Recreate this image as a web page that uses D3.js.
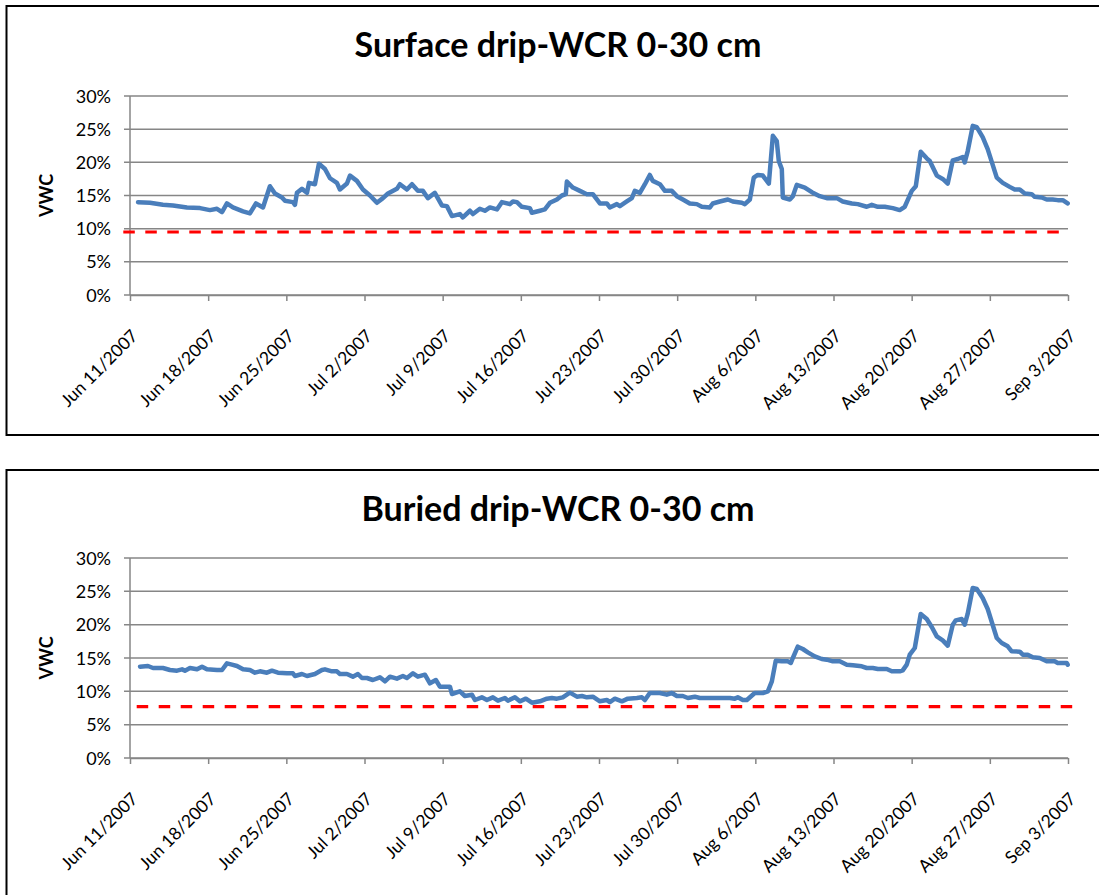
<!DOCTYPE html>
<html>
<head>
<meta charset="utf-8">
<script src="https://cdn.jsdelivr.net/npm/d3@7"></script>
<style>
  body { margin: 0; background: #fff; }
  svg { display: block; }
  text { font-family: Lato, "Open Sans", sans-serif; fill: #000; }
</style>
</head>
<body>
<svg id="chart" width="1099" height="895"></svg>
<script>
// Readings: [days after Jun 11 2007 00:00, volumetric water content %]
const seriesStart = new Date(2007, 5, 11);
const axisStart = new Date(2007, 5, 11);
const axisEnd = new Date(2007, 8, 3);
const vwcTicks = [0, 5, 10, 15, 20, 25, 30];

const surfaceDrip = [
  [0.72,14.0],[1.79,13.9],[2.95,13.6],[3.85,13.5],[5.10,13.2],[6.27,13.1],[7.16,12.8],[7.79,13.0],
  [8.24,12.5],[8.68,13.8],[9.22,13.2],[10.12,12.6],[10.74,12.3],[11.28,13.8],[11.91,13.2],[12.53,16.4],
  [12.98,15.3],[13.61,14.7],[13.88,14.2],[14.59,14.0],[14.77,13.6],[14.95,15.4],[15.40,16.0],[15.85,15.4],
  [16.03,16.9],[16.56,16.7],[16.92,19.8],[17.46,19.0],[17.91,17.6],[18.53,16.9],[18.80,15.9],[19.43,16.8],
  [19.70,18.0],[20.32,17.2],[20.86,15.9],[21.49,15.0],[22.11,13.9],[22.65,14.6],[23.10,15.3],[23.90,16.0],
  [24.17,16.7],[24.80,15.9],[25.25,16.7],[25.78,15.7],[26.23,15.7],[26.68,14.6],[27.30,15.4],[27.93,13.5],
  [28.38,13.4],[28.83,11.9],[29.54,12.2],[29.81,11.7],[30.44,12.7],[30.71,12.2],[31.33,13.0],[31.78,12.7],
  [32.23,13.2],[32.86,12.9],[33.30,14.0],[34.02,13.7],[34.29,14.1],[34.65,14.0],[35.09,13.3],[35.81,13.1],
  [35.99,12.4],[36.71,12.7],[37.15,12.9],[37.60,13.9],[38.23,14.4],[38.68,15.0],[39.03,15.2],[39.12,17.1],
  [39.66,16.2],[40.29,15.7],[40.91,15.2],[41.45,15.2],[42.08,13.8],[42.70,13.8],[42.97,13.2],[43.60,13.7],
  [43.87,13.4],[44.49,14.1],[44.94,14.6],[45.21,15.7],[45.66,15.4],[46.11,16.7],[46.55,18.1],[46.82,17.2],
  [47.45,16.7],[47.90,15.7],[48.52,15.7],[48.97,14.9],[49.51,14.4],[50.13,13.8],[50.76,13.7],[51.21,13.3],
  [51.93,13.2],[52.19,13.8],[52.82,14.1],[53.54,14.4],[53.98,14.1],[54.79,13.9],[55.06,13.7],[55.51,14.4],
  [55.86,17.7],[56.22,18.1],[56.67,18.0],[57.21,16.8],[57.57,24.0],[57.92,23.2],[58.10,20.2],[58.37,19.0],
  [58.46,14.7],[59.09,14.4],[59.36,14.9],[59.71,16.6],[60.43,16.2],[61.06,15.5],[61.77,14.9],[62.40,14.6],
  [63.30,14.6],[63.83,14.1],[64.64,13.8],[65.17,13.7],[65.98,13.3],[66.43,13.6],[66.97,13.3],[67.59,13.3],
  [68.31,13.1],[68.93,12.8],[69.38,13.3],[70.01,15.7],[70.37,16.4],[70.81,21.6],[71.35,20.6],[71.62,20.2],
  [72.25,18.0],[72.78,17.5],[73.23,16.8],[73.68,20.3],[74.13,20.5],[74.57,20.8],[74.75,20.0],[75.02,21.7],
  [75.47,25.5],[75.83,25.3],[76.36,23.8],[76.81,22.0],[77.62,17.7],[78.16,16.9],[78.78,16.3],[79.23,15.9],
  [79.68,15.9],[80.13,15.3],[80.75,15.2],[81.02,14.8],[81.65,14.7],[82.09,14.4],[82.63,14.4],[83.08,14.3],
  [83.53,14.3],[83.97,13.8]
];

const buriedDrip = [
  [0.90,13.7],[1.61,13.8],[2.06,13.5],[2.95,13.5],[3.58,13.2],[4.21,13.1],[4.66,13.3],[4.92,13.1],
  [5.37,13.5],[6.00,13.3],[6.45,13.7],[6.89,13.3],[7.79,13.2],[8.24,13.2],[8.68,14.2],[9.13,14.0],
  [9.58,13.8],[10.12,13.3],[10.74,13.2],[11.19,12.8],[11.64,13.0],[12.26,12.8],[12.71,13.1],[13.25,12.8],
  [14.06,12.7],[14.59,12.7],[14.77,12.3],[15.40,12.6],[15.85,12.3],[16.56,12.6],[17.19,13.2],[17.46,13.3],
  [18.08,13.0],[18.53,13.0],[18.80,12.6],[19.43,12.6],[19.96,12.2],[20.41,12.6],[20.77,12.0],[21.22,12.0],
  [21.75,11.7],[22.38,12.1],[22.83,11.5],[23.28,12.2],[23.90,11.9],[24.44,12.3],[24.80,12.0],[25.34,12.7],
  [25.78,12.2],[26.41,12.5],[26.86,11.2],[27.39,11.7],[27.75,10.7],[28.65,10.7],[28.83,9.6],[29.54,10.0],
  [29.99,9.3],[30.62,9.5],[30.89,8.7],[31.51,9.1],[31.96,8.7],[32.50,9.1],[32.95,8.6],[33.57,9.0],
  [33.84,8.6],[34.47,9.1],[34.91,8.5],[35.45,8.9],[35.99,8.3],[36.71,8.5],[37.33,8.9],[37.78,9.0],
  [38.23,8.9],[38.76,9.1],[39.39,9.8],[40.02,9.2],[40.47,9.3],[40.91,9.1],[41.45,9.2],[42.08,8.5],
  [42.70,8.7],[42.97,8.4],[43.42,8.9],[44.05,8.5],[44.58,8.9],[45.39,9.0],[45.84,9.1],[46.11,8.7],
  [46.55,9.75],[47.45,9.75],[48.07,9.5],[48.52,9.75],[48.97,9.3],[49.51,9.3],[49.96,9.0],[50.58,9.2],
  [51.03,9.0],[52.19,9.0],[53.72,9.0],[54.16,8.9],[54.43,9.1],[54.88,8.7],[55.24,8.7],[55.95,9.75],
  [56.67,9.75],[57.12,10.0],[57.48,11.5],[57.83,14.6],[58.37,14.5],[58.91,14.5],[59.18,14.25],[59.36,15.0],
  [59.80,16.7],[60.25,16.35],[60.70,15.85],[61.32,15.25],[61.95,14.85],[62.40,14.75],[62.94,14.5],[63.56,14.5],
  [64.19,14.0],[64.73,13.9],[65.53,13.75],[65.98,13.5],[66.52,13.5],[66.97,13.35],[67.77,13.35],[68.22,13.0],
  [68.93,13.0],[69.20,13.15],[69.56,14.0],[69.83,15.5],[70.28,16.5],[70.81,21.6],[71.35,20.85],[71.80,19.65],
  [72.25,18.25],[72.78,17.65],[73.23,16.85],[73.68,20.0],[73.95,20.65],[74.48,20.85],[74.75,20.0],[75.02,21.65],
  [75.47,25.5],[75.83,25.35],[76.36,24.0],[76.81,22.35],[77.62,18.0],[78.07,17.25],[78.60,16.75],[78.96,16.0],
  [79.68,15.95],[79.95,15.5],[80.39,15.5],[80.84,15.1],[81.47,15.0],[82.09,14.5],[82.81,14.5],[83.08,14.25],
  [83.89,14.25],[83.97,14.0]
];

// Refill point (lower limit) for each system
const surfaceThreshold = [[-0.6, 9.5], [84.0, 9.5]];
const buriedThreshold = [[0.6, 7.7], [84.6, 7.7]];

const panels = [
  { title: "Surface drip-WCR 0-30 cm", readings: surfaceDrip, limit: surfaceThreshold,
    frameTop: 6, frameBottom: 435, titleY: 57, plotTop: 96, plotBottom: 295 },
  { title: "Buried drip-WCR 0-30 cm", readings: buriedDrip, limit: buriedThreshold,
    frameTop: 470, frameBottom: 960, titleY: 521, plotTop: 558, plotBottom: 758 }
];

const svg = d3.select("#chart");
const plotLeft = 130, plotRight = 1068;
const toDate = d => d3.timeMinute.offset(seriesStart, Math.round(d * 1440));
const x = d3.scaleTime().domain([axisStart, axisEnd]).range([plotLeft, plotRight]);
const weekTicks = d3.timeDay.range(axisStart, d3.timeDay.offset(axisEnd, 1), 7);
const fmtDate = d3.timeFormat("%b %-d/%Y");
const gridColor = "#868686";

panels.forEach(p => {
  const g = svg.append("g");
  const y = d3.scaleLinear().domain([0, 30]).range([p.plotBottom, p.plotTop]);

  // chart frame
  g.append("rect")
    .attr("x", 6.5).attr("y", p.frameTop)
    .attr("width", 1200).attr("height", p.frameBottom - p.frameTop)
    .attr("fill", "#fff").attr("stroke", "#000").attr("stroke-width", 2);

  g.append("text")
    .attr("x", 558).attr("y", p.titleY)
    .attr("text-anchor", "middle")
    .attr("font-size", 34).attr("font-weight", "bold")
    .text(p.title);

  // horizontal gridlines with left tick marks
  g.selectAll("line.grid").data(vwcTicks).join("line")
    .attr("class", "grid")
    .attr("x1", plotLeft - 6).attr("x2", plotRight)
    .attr("y1", d => y(d)).attr("y2", d => y(d))
    .attr("stroke", gridColor).attr("stroke-width", 1.5);

  g.selectAll("text.ylab").data(vwcTicks).join("text")
    .attr("class", "ylab")
    .attr("x", 111).attr("y", d => y(d) + 6.5)
    .attr("text-anchor", "end").attr("font-size", 18)
    .text(d => d + "%");

  // value axis line
  g.append("line")
    .attr("x1", plotLeft).attr("x2", plotLeft)
    .attr("y1", p.plotTop).attr("y2", p.plotBottom)
    .attr("stroke", gridColor).attr("stroke-width", 1.5);

  // date axis
  const xAxis = g.append("g")
    .attr("transform", `translate(0,${p.plotBottom})`)
    .call(d3.axisBottom(x).tickValues(weekTicks).tickSize(6).tickSizeOuter(0).tickFormat(""));
  xAxis.select(".domain").attr("stroke", gridColor).attr("stroke-width", 1.5);
  xAxis.selectAll(".tick line").attr("stroke", gridColor).attr("stroke-width", 1.5);

  g.selectAll("text.xlab").data(weekTicks).join("text")
    .attr("class", "xlab")
    .attr("transform", d => `translate(${x(d) + 9},${p.plotBottom + 42}) rotate(-45)`)
    .attr("text-anchor", "end").attr("font-size", 17.5)
    .text(d => fmtDate(d));

  g.append("text")
    .attr("transform", `translate(53,${(p.plotTop + p.plotBottom) / 2}) rotate(-90)`)
    .attr("text-anchor", "middle").attr("font-size", 18).attr("font-weight", "bold")
    .text("VWC");

  // lower limit
  g.append("path")
    .datum(p.limit)
    .attr("d", d3.line().x(d => x(toDate(d[0]))).y(d => y(d[1])))
    .attr("fill", "none").attr("stroke", "#ff0000").attr("stroke-width", 3.2)
    .attr("stroke-dasharray", "11.5,10.5");

  // soil moisture
  g.append("path")
    .datum(p.readings)
    .attr("d", d3.line().x(d => x(toDate(d[0]))).y(d => y(d[1])))
    .attr("fill", "none").attr("stroke", "#4a7ebb").attr("stroke-width", 4.5)
    .attr("stroke-linejoin", "round").attr("stroke-linecap", "round");
});
</script>
</body>
</html>
